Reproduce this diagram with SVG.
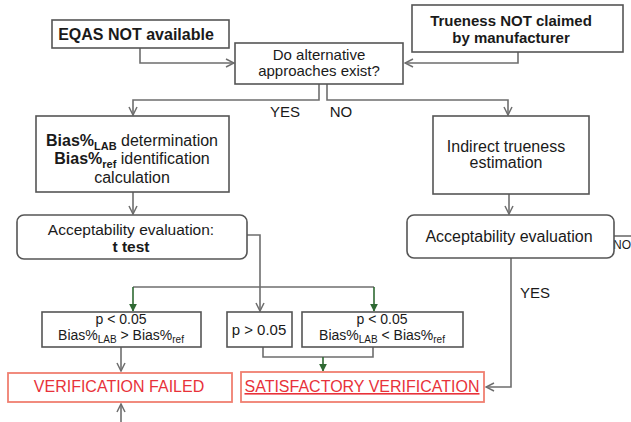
<svg xmlns="http://www.w3.org/2000/svg" width="631" height="422" viewBox="0 0 631 422">
  <style>
    text { font-family: "Liberation Sans", Arial, sans-serif; fill: #1a1a1a; text-anchor: middle; }
    .box { fill: #ffffff; stroke: #555555; stroke-width: 1.6; }
    .out { fill: #ffffff; stroke: #f07f70; stroke-width: 1.8; }
    .line { fill: none; stroke: #6e6e6e; stroke-width: 1.6; }
    .gline { fill: none; stroke: #2f6a33; stroke-width: 1.6; }
    .b { font-weight: bold; }
    .red { fill: #e8323a; }
  </style>
  <defs>
    <marker id="chev" viewBox="0 0 10 10" refX="9" refY="5" markerWidth="10" markerHeight="10" orient="auto" markerUnits="userSpaceOnUse">
      <path d="M1,1 L9,5 L1,9" fill="none" stroke="#6e6e6e" stroke-width="1.5"/>
    </marker>
    <marker id="tri" viewBox="0 0 10 10" refX="9" refY="5" markerWidth="8" markerHeight="8" orient="auto" markerUnits="userSpaceOnUse">
      <path d="M0,0 L10,5 L0,10 Z" fill="#2f6a33"/>
    </marker>
  </defs>

  <!-- connectors -->
  <g id="connectors">
    <polyline class="line" points="140,48 140,63 234,63" marker-end="url(#chev)"/>
    <polyline class="line" points="518,52 518,63 405,63" marker-end="url(#chev)"/>
    <polyline class="line" points="319,84 319,100 133,100 133,115" marker-end="url(#chev)"/>
    <polyline class="line" points="327,84 327,100 508,100 508,115" marker-end="url(#chev)"/>
    <line class="line" x1="133" y1="192" x2="133" y2="214" marker-end="url(#chev)"/>
    <line class="line" x1="509" y1="194" x2="509" y2="214" marker-end="url(#chev)"/>
    <polyline class="line" points="247,235 260,235 260,311" marker-end="url(#chev)"/>
    <polyline class="line" points="260,287 133,287"/>
    <polyline class="line" points="260,287 374,287"/>
    <line class="gline" x1="133" y1="287" x2="133" y2="311" marker-end="url(#tri)"/>
    <line class="gline" x1="374" y1="287" x2="374" y2="311" marker-end="url(#tri)"/>
    <line class="line" x1="121" y1="347" x2="121" y2="371" marker-end="url(#chev)"/>
    <line class="line" x1="121" y1="422" x2="121" y2="404" marker-end="url(#chev)"/>
    <polyline class="line" points="263,347 263,357 373,357 373,347"/>
    <line class="gline" x1="323" y1="357" x2="323" y2="371" marker-end="url(#tri)"/>
    <polyline class="line" points="511,258 511,387 486,387" marker-end="url(#chev)"/>
    <line class="line" x1="614" y1="236" x2="631" y2="236"/>
    <text x="285" y="117" font-size="15">YES</text>
    <text x="341" y="117" font-size="15">NO</text>
    <text x="535" y="298" font-size="15">YES</text>
    <text x="613" y="249" font-size="12" style="text-anchor:start">NO</text>
  </g>

  <g id="eqas">
    <rect class="box" x="52" y="20" width="177" height="28"/>
    <text class="b" x="136" y="40" font-size="16">EQAS NOT available</text>
  </g>

  <g id="trueness">
    <rect class="box" x="412" y="5" width="211" height="47"/>
    <text class="b" x="511" y="26" font-size="15">Trueness NOT claimed</text>
    <text class="b" x="511" y="43" font-size="15">by manufacturer</text>
  </g>

  <g id="decision">
    <rect class="box" x="235" y="43" width="168" height="41"/>
    <text x="319" y="60" font-size="15">Do alternative</text>
    <text x="319" y="76" font-size="15">approaches exist?</text>
  </g>

  <g id="bias">
    <rect class="box" x="36" y="116" width="193" height="76"/>
    <text x="132" y="146" font-size="16"><tspan class="b">Bias%</tspan><tspan class="b" font-size="11" dy="4">LAB</tspan><tspan dy="-4"> determination</tspan></text>
    <text x="132" y="164" font-size="16"><tspan class="b">Bias%</tspan><tspan class="b" font-size="11" dy="4">ref</tspan><tspan dy="-4"> identification</tspan></text>
    <text x="132" y="183" font-size="16">calculation</text>
  </g>

  <g id="indirect">
    <rect class="box" x="433" y="116" width="156" height="78"/>
    <text x="506" y="152" font-size="16">Indirect trueness</text>
    <text x="506" y="168" font-size="16">estimation</text>
  </g>

  <g id="accept-ttest">
    <rect class="box" x="17" y="215" width="230" height="44" rx="7"/>
    <text x="131" y="235" font-size="15.5">Acceptability evaluation:</text>
    <text class="b" x="131" y="252" font-size="15.5">t test</text>
  </g>

  <g id="accept-indirect">
    <rect class="box" x="407" y="215" width="207" height="43" rx="7"/>
    <text x="509" y="242" font-size="16">Acceptability evaluation</text>
  </g>

  <g id="p-fail">
    <rect class="box" x="42" y="312" width="159" height="35"/>
    <text x="121" y="324" font-size="14">p &lt; 0.05</text>
    <text x="121" y="340" font-size="14">Bias%<tspan font-size="10" dy="3">LAB</tspan><tspan dy="-3"> &gt; Bias%</tspan><tspan font-size="10" dy="3">ref</tspan></text>
  </g>

  <g id="p-high">
    <rect class="box" x="227" y="312" width="65" height="35"/>
    <text x="259" y="335" font-size="15">p &gt; 0.05</text>
  </g>

  <g id="p-pass">
    <rect class="box" x="302" y="312" width="161" height="35"/>
    <text x="382" y="324" font-size="14">p &lt; 0.05</text>
    <text x="382" y="340" font-size="14">Bias%<tspan font-size="10" dy="3">LAB</tspan><tspan dy="-3"> &lt; Bias%</tspan><tspan font-size="10" dy="3">ref</tspan></text>
  </g>

  <g id="failed">
    <rect class="out" x="8" y="373" width="224" height="29"/>
    <text class="red" x="119" y="392" font-size="16">VERIFICATION FAILED</text>
  </g>

  <g id="satisfactory">
    <rect class="out" x="241" y="372" width="243" height="30"/>
    <text class="red" x="362" y="392" font-size="16" text-decoration="underline">SATISFACTORY VERIFICATION</text>
  </g>
</svg>
